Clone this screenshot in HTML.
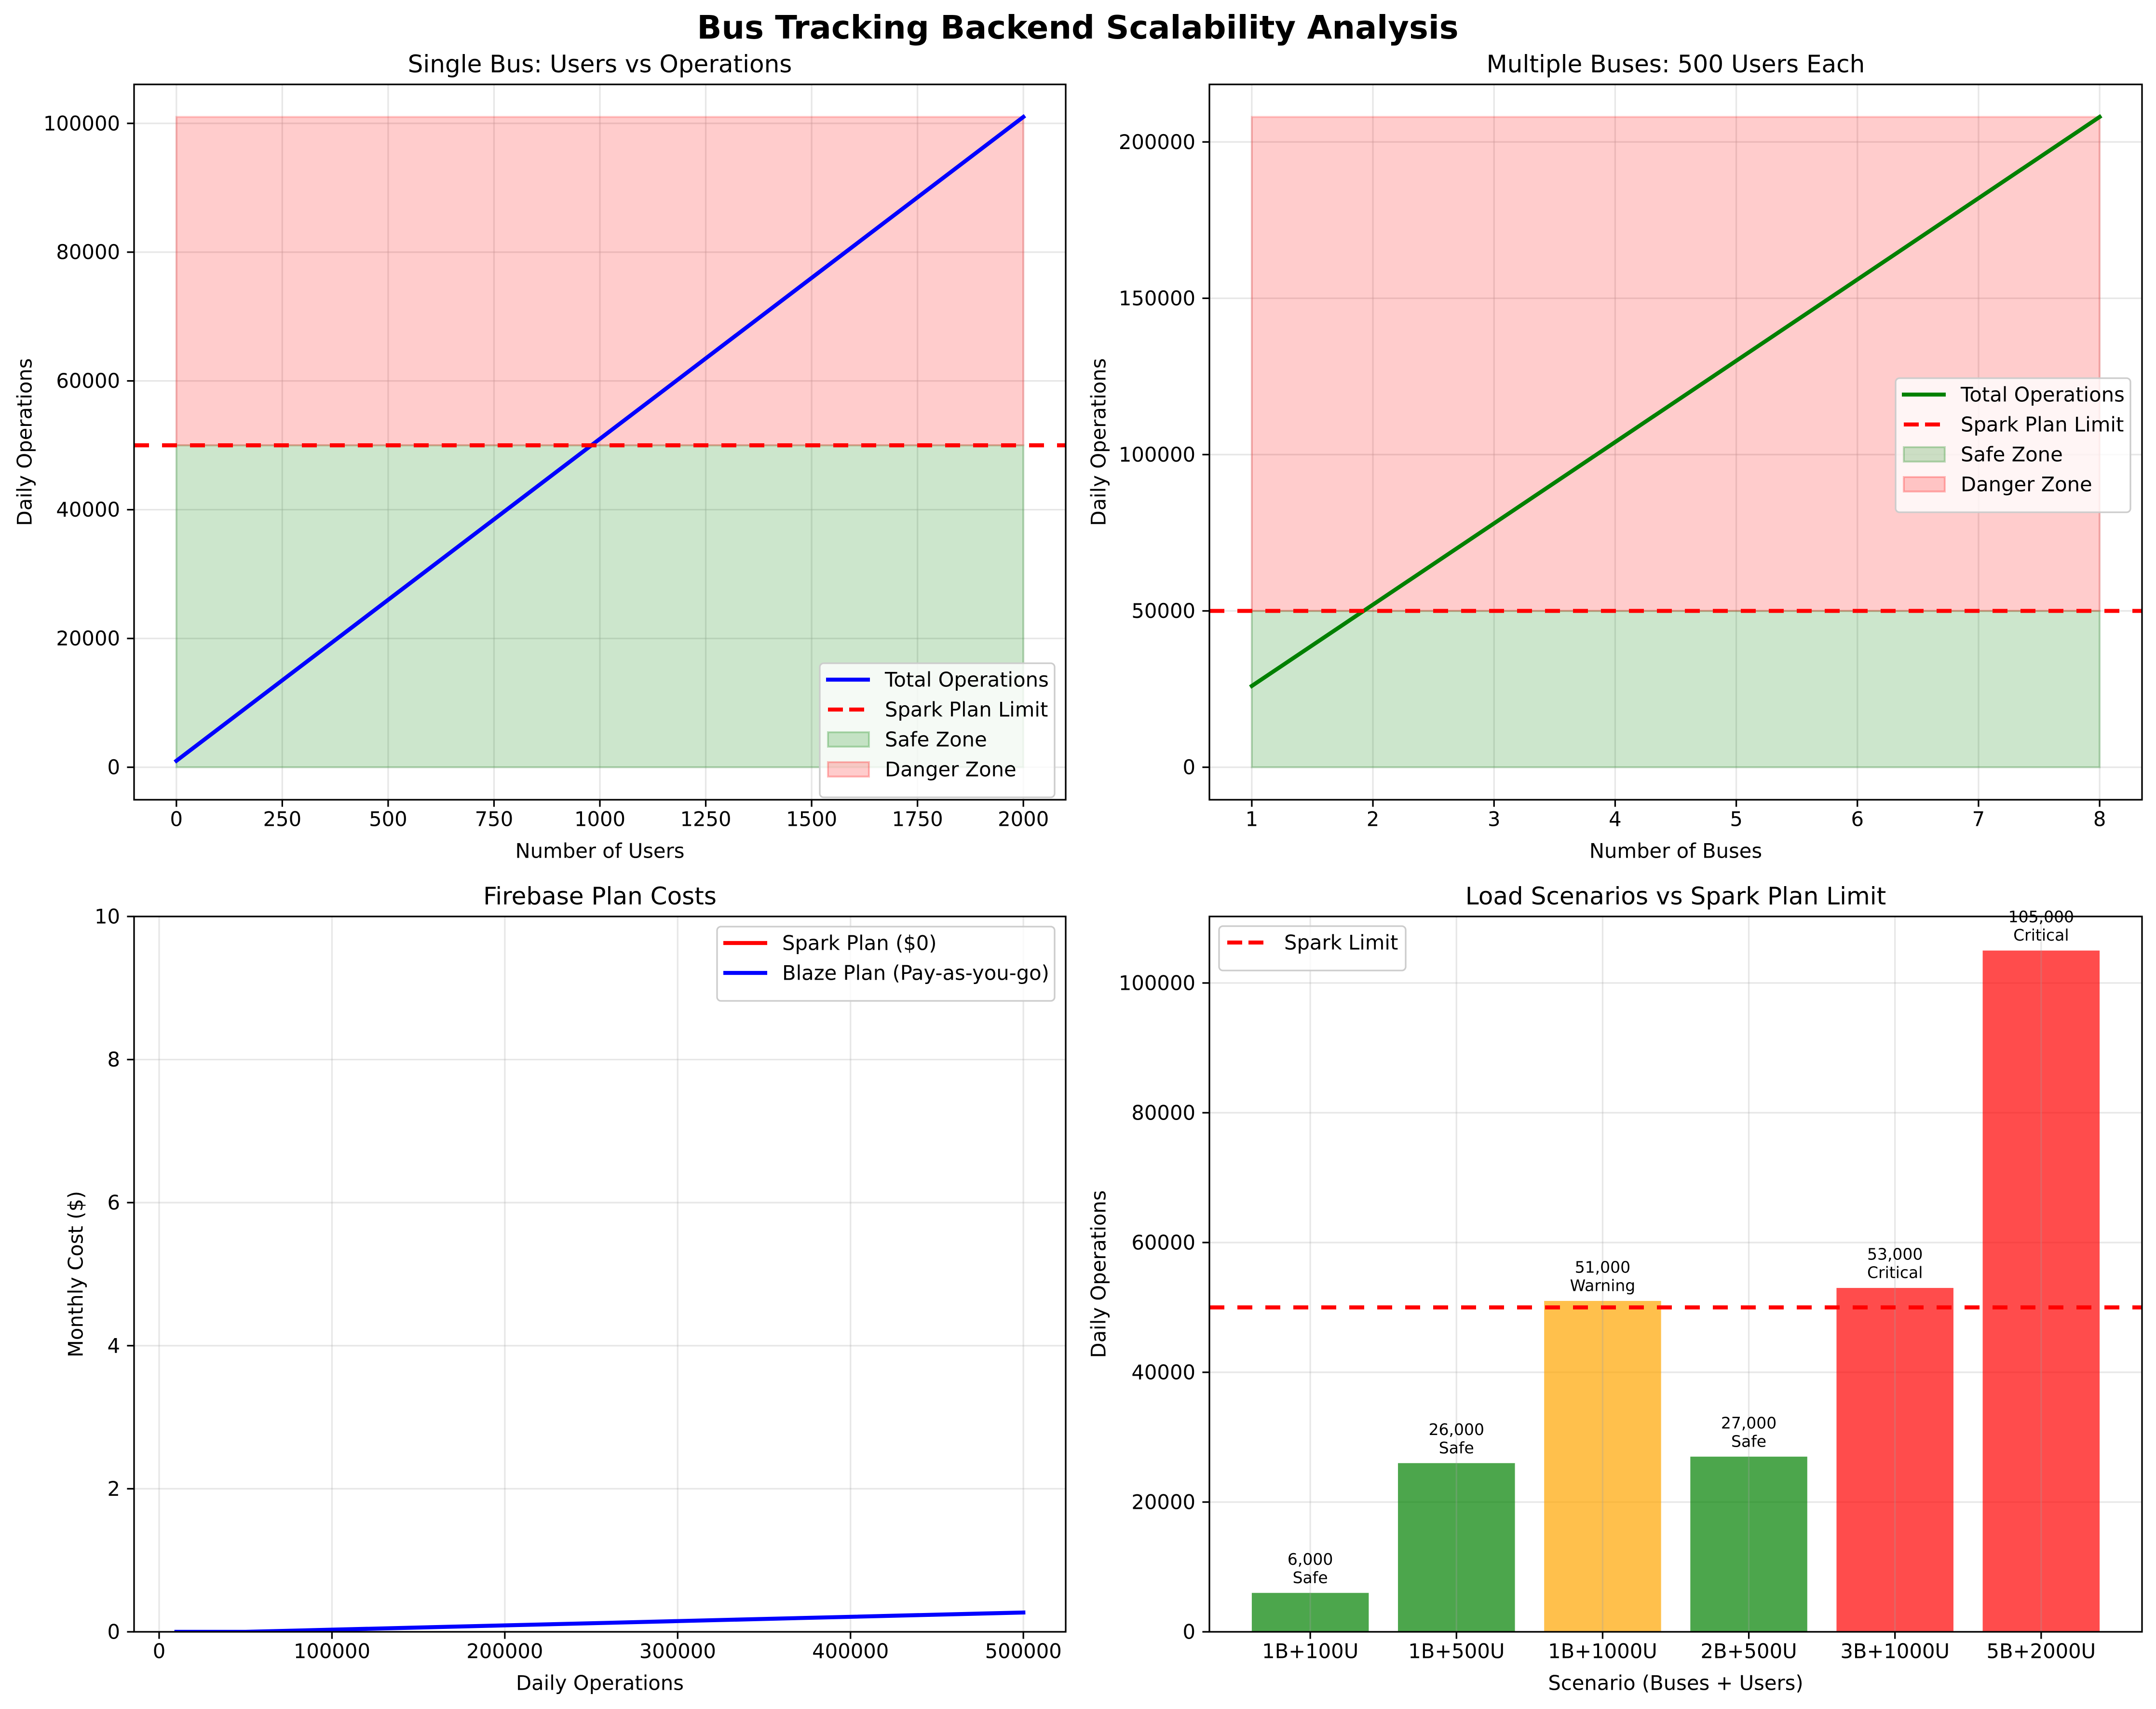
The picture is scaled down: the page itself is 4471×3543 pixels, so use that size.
<!DOCTYPE html>
<html><head><meta charset="utf-8"><style>
html,body{margin:0;padding:0;background:#fff;}
svg{display:block;font-family:"DejaVu Sans","Liberation Sans",sans-serif;}
</style></head><body>
<svg id="fig" width="4471" height="3543" viewBox="0 0 4471 3543" xmlns="http://www.w3.org/2000/svg">
<rect width="4471" height="3543" fill="#fff"/>
<text x="2235" y="57" font-size="67" font-weight="bold" text-anchor="middle" dominant-baseline="central">Bus Tracking Backend Scalability Analysis</text>
</svg>
<script>
// Panel 1 data
const p1Users = [0, 2000];
const p1Ops = [1000, 101000];
const p1XTicks = [0, 250, 500, 750, 1000, 1250, 1500, 1750, 2000];
const p1YTicks = [0, 20000, 40000, 60000, 80000, 100000];
// Panel 2 data
const p2Buses = [1, 2, 3, 4, 5, 6, 7, 8];
const p2Ops = [26000, 52000, 78000, 104000, 130000, 156000, 182000, 208000];
const p2XTicks = [1, 2, 3, 4, 5, 6, 7, 8];
const p2YTicks = [0, 50000, 100000, 150000, 200000];
// Panel 3 data
const p3Ops = [10000, 50000, 100000, 200000, 300000, 400000, 500000];
const p3Spark = [0, 0, 0, 0, 0, 0, 0];
const p3Blaze = [0, 0, 0.03, 0.09, 0.15, 0.21, 0.27];
const p3XTicks = [0, 100000, 200000, 300000, 400000, 500000];
const p3YTicks = [0, 2, 4, 6, 8, 10];
// Panel 4 data
const p4Cats = ["1B+100U", "1B+500U", "1B+1000U", "2B+500U", "3B+1000U", "5B+2000U"];
const p4Vals = [6000, 26000, 51000, 27000, 53000, 105000];
const p4Status = ["Safe", "Safe", "Warning", "Safe", "Critical", "Critical"];
const p4YTicks = [0, 20000, 40000, 60000, 80000, 100000];
const sparkLimit = 50000;

const NS = "http://www.w3.org/2000/svg";
const svg = document.getElementById("fig");
function mk(tag, attrs, parent) {
  const e = document.createElementNS(NS, tag);
  for (const k in attrs) e.setAttribute(k, attrs[k]);
  (parent || svg).appendChild(e);
  return e;
}
function txt(s, attrs, parent) { const e = mk("text", attrs, parent); e.textContent = s; return e; }

function axes(cfg) {
  const g = mk("g", {});
  
  
  const sx = v => cfg.L + (v - cfg.x0) / (cfg.x1 - cfg.x0) * (cfg.R - cfg.L);
  const sy = v => cfg.B - (v - cfg.y0) / (cfg.y1 - cfg.y0) * (cfg.B - cfg.T);
  const cid = "clip-" + cfg.name;
  const cp = mk("clipPath", {id: cid}, g);
  mk("rect", {x: cfg.L, y: cfg.T, width: cfg.R - cfg.L, height: cfg.B - cfg.T}, cp);
  const plot = mk("g", {"clip-path": "url(#" + cid + ")"}, g);
  cfg.xt.forEach(v => mk("line", {x1: sx(v), x2: sx(v), y1: cfg.T, y2: cfg.B, stroke: "#b0b0b0", "stroke-opacity": 0.3, "stroke-width": 3.3}, plot));
  cfg.yt.forEach(v => mk("line", {x1: cfg.L, x2: cfg.R, y1: sy(v), y2: sy(v), stroke: "#b0b0b0", "stroke-opacity": 0.3, "stroke-width": 3.3}, plot));
  cfg.xt.forEach((v, i) => {
    mk("line", {x1: sx(v), x2: sx(v), y1: cfg.B, y2: cfg.B + 14.6, stroke: "#000", "stroke-width": 3.3}, g);
    const t = txt(cfg.xl ? cfg.xl[i] : String(v), {x: sx(v), y: cfg.B + 40, "font-size": 41.7, "text-anchor": "middle", "dominant-baseline": "central"}, g);
    
    
  });
  cfg.yt.forEach(v => {
    mk("line", {x1: cfg.L - 14.6, x2: cfg.L, y1: sy(v), y2: sy(v), stroke: "#000", "stroke-width": 3.3}, g);
    const t = txt(String(v), {x: cfg.L - 29, y: sy(v), "font-size": 41.7, "text-anchor": "end", "dominant-baseline": "central"}, g);
    
    
  });
  const tt = txt(cfg.title, {x: (cfg.L + cfg.R) / 2, y: cfg.T - 42, "font-size": 50, "text-anchor": "middle", "dominant-baseline": "central"}, g);
  
  
  const xl = txt(cfg.xlabel, {x: (cfg.L + cfg.R) / 2, y: cfg.B + 106, "font-size": 41.7, "text-anchor": "middle", "dominant-baseline": "central"}, g);
  
  
  const yl = txt(cfg.ylabel, {x: cfg.ylx, y: (cfg.T + cfg.B) / 2, "font-size": 41.7, "text-anchor": "middle", "dominant-baseline": "central", transform: "rotate(-90 " + cfg.ylx + " " + ((cfg.T + cfg.B) / 2) + ")"}, g);
  
  
  return {g, plot, sx, sy, cfg};
}
function frame(a) {
  const c = a.cfg;
  mk("rect", {x: c.L, y: c.T, width: c.R - c.L, height: c.B - c.T, fill: "none", stroke: "#000", "stroke-width": 3.3}, a.g);
}
function poly(a, xs, ys, color, name, op) {
  const pts = xs.map((x, i) => a.sx(x) + "," + a.sy(ys[i])).join(" ");
  const p = mk("polyline", {points: pts, fill: "none", stroke: color, "stroke-opacity": op == null ? 1 : op, "stroke-width": 8.3, "stroke-linejoin": "round", "stroke-linecap": "square"}, a.plot);
  
  
}
function hline(a, v) {
  const l = mk("line", {x1: a.cfg.L, x2: a.cfg.R, y1: a.sy(v), y2: a.sy(v), stroke: "#ff0000", "stroke-width": 8.3, "stroke-dasharray": "31 27"}, a.plot);
  
  
}
function zones(a, xa, xb, top) {
  const s = mk("rect", {x: a.sx(xa), y: a.sy(sparkLimit), width: a.sx(xb) - a.sx(xa), height: a.sy(0) - a.sy(sparkLimit), fill: "rgb(0,128,0)", "fill-opacity": 0.2, stroke: "rgb(0,128,0)", "stroke-opacity": 0.2, "stroke-width": 4}, a.plot);
  
  
  const d = mk("rect", {x: a.sx(xa), y: a.sy(top), width: a.sx(xb) - a.sx(xa), height: a.sy(sparkLimit) - a.sy(top), fill: "rgb(255,0,0)", "fill-opacity": 0.2, stroke: "rgb(255,0,0)", "stroke-opacity": 0.2, "stroke-width": 4}, a.plot);
  
  
}
function legend(a, x, y, w, entries) {
  const h = 30 + entries.length * 62;
  const g = mk("g", {}, a.g);
  
  
  mk("rect", {x: x, y: y, width: w, height: h, rx: 8, fill: "#fff", "fill-opacity": 0.8, stroke: "#cccccc", "stroke-width": 3.3}, g);
  entries.forEach((e, i) => {
    const cy = y + 34 + i * 62;
    if (e.type === "line") mk("line", {x1: x + 13, x2: x + 104, y1: cy, y2: cy, stroke: e.color, "stroke-width": 8.3}, g);
    else if (e.type === "dash") mk("line", {x1: x + 17, x2: x + 104, y1: cy, y2: cy, stroke: e.color, "stroke-width": 8.3, "stroke-dasharray": "31 13"}, g);
    else mk("rect", {x: x + 17, y: cy - 15, width: 85, height: 30, fill: e.color, "fill-opacity": 0.2, stroke: e.color, "stroke-opacity": 0.25, "stroke-width": 4}, g);
    const t = txt(e.label, {x: x + 135, y: cy, "font-size": 41.7, "dominant-baseline": "central"}, g);
    
    
  });
}

// Panel 1
const a1 = axes({name: "single-bus-chart", L: 278, R: 2210, T: 175, B: 1658, x0: -100, x1: 2100, y0: -5050, y1: 106050, xt: p1XTicks, yt: p1YTicks, title: "Single Bus: Users vs Operations", xlabel: "Number of Users", ylabel: "Daily Operations", ylx: 51});
zones(a1, p1Users[0], p1Users[p1Users.length - 1], p1Ops[p1Ops.length - 1]);
poly(a1, p1Users, p1Ops, "#0000ff", "total-operations-line");
hline(a1, sparkLimit);
frame(a1);
legend(a1, 1700, 1375, 487, [{type: "line", color: "#0000ff", label: "Total Operations"}, {type: "dash", color: "#ff0000", label: "Spark Plan Limit"}, {type: "patch", color: "rgb(0,128,0)", label: "Safe Zone"}, {type: "patch", color: "rgb(255,0,0)", label: "Danger Zone"}]);

// Panel 2
const a2 = axes({name: "multiple-buses-chart", L: 2508, R: 4442, T: 175, B: 1658, x0: 0.65, x1: 8.35, y0: -10400, y1: 218400, xt: p2XTicks, yt: p2YTicks, title: "Multiple Buses: 500 Users Each", xlabel: "Number of Buses", ylabel: "Daily Operations", ylx: 2278});
zones(a2, p2Buses[0], p2Buses[p2Buses.length - 1], p2Ops[p2Ops.length - 1]);
poly(a2, p2Buses, p2Ops, "#008000", "total-operations-line");
hline(a2, sparkLimit);
frame(a2);
legend(a2, 3931, 784, 487, [{type: "line", color: "#008000", label: "Total Operations"}, {type: "dash", color: "#ff0000", label: "Spark Plan Limit"}, {type: "patch", color: "rgb(0,128,0)", label: "Safe Zone"}, {type: "patch", color: "rgb(255,0,0)", label: "Danger Zone"}]);

// Panel 3
const a3 = axes({name: "plan-costs-chart", L: 278, R: 2210, T: 1900, B: 3383, x0: -14500, x1: 524500, y0: 0, y1: 10, xt: p3XTicks, yt: p3YTicks, title: "Firebase Plan Costs", xlabel: "Daily Operations", ylabel: "Monthly Cost ($)", ylx: 157});
poly(a3, p3Ops, p3Spark, "#ff0000", "spark-plan-line", 0);
poly(a3, p3Ops, p3Blaze, "#0000ff", "blaze-plan-line");
frame(a3);
legend(a3, 1487, 1921, 700, [{type: "line", color: "#ff0000", label: "Spark Plan ($0)"}, {type: "line", color: "#0000ff", label: "Blaze Plan (Pay-as-you-go)"}]);

// Panel 4
const p4Idx = p4Cats.map((c, i) => i);
const a4 = axes({name: "load-scenarios-chart", L: 2508, R: 4442, T: 1900, B: 3383, x0: -0.69, x1: 5.69, y0: 0, y1: 110250, xt: p4Idx, xl: p4Cats, yt: p4YTicks, title: "Load Scenarios vs Spark Plan Limit", xlabel: "Scenario (Buses + Users)", ylabel: "Daily Operations", ylx: 2278});
const statusColor = {Safe: "rgb(0,128,0)", Warning: "rgb(255,165,0)", Critical: "rgb(255,0,0)"};
p4Vals.forEach((v, i) => {
  const x0 = a4.sx(i - 0.4), x1 = a4.sx(i + 0.4);
  const r = mk("rect", {x: x0, y: a4.sy(v), width: x1 - x0, height: a4.sy(0) - a4.sy(v), fill: statusColor[p4Status[i]], "fill-opacity": 0.7}, a4.plot);
  
  
  mk("line", {x1: a4.sx(i), x2: a4.sx(i), y1: a4.sy(v), y2: a4.cfg.B, stroke: "#b0b0b0", "stroke-opacity": 0.3, "stroke-width": 3.3}, a4.plot);
  const l1 = txt(v.toLocaleString("en-US"), {x: a4.sx(i), y: a4.sy(v) - 70, "font-size": 33, "text-anchor": "middle", "dominant-baseline": "central"}, a4.g);
  
  
  const l2 = txt(p4Status[i], {x: a4.sx(i), y: a4.sy(v) - 32, "font-size": 33, "text-anchor": "middle", "dominant-baseline": "central"}, a4.g);
  
  
});
hline(a4, sparkLimit);
frame(a4);
legend(a4, 2528, 1920, 387, [{type: "dash", color: "#ff0000", label: "Spark Limit"}]);
</script>
</body></html>
